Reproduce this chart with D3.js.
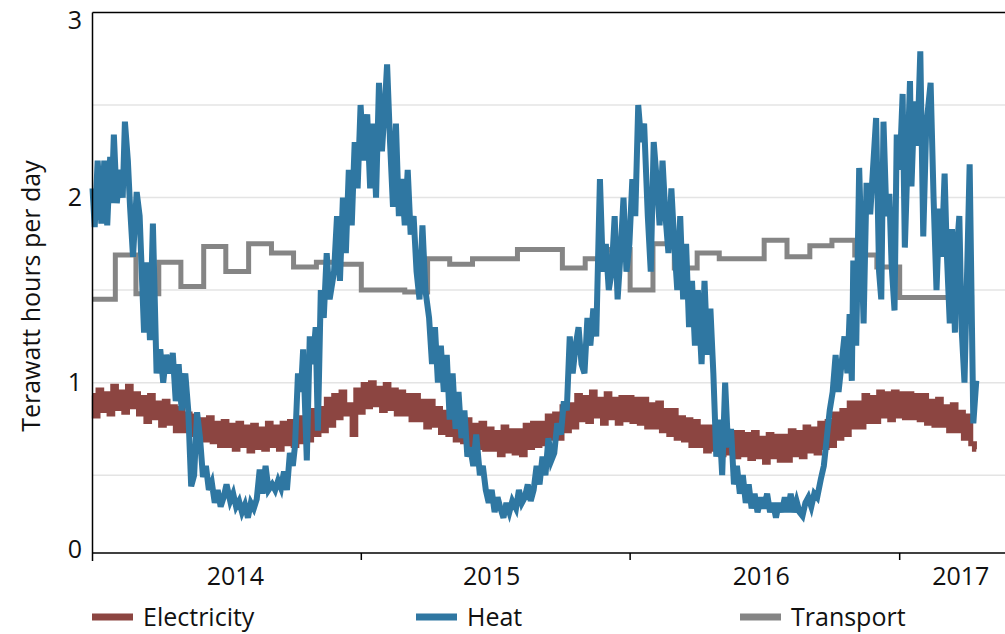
<!DOCTYPE html>
<html>
  <head>
    <meta charset="utf-8">
    <script src="https://d3js.org/d3.v7.min.js"></script>
    <title>Energy use per day</title>
    <style>
      body { margin: 0; background: #fff; }
      text { font-family: "Open Sans", sans-serif; fill: #111; }
    </style>
  </head>
  <body>

    <svg></svg>

    <script type="text/javascript">

      // days counted from 1 Jan 2014
      var heat = [
        [0,2.05],[3,1.84],[7,2.2],[12,1.86],[16,2.2],[20,1.85],[24,2.22],[26,1.97],[29,2.34],[33,1.97],
        [37,2.15],[41,2.0],[44,2.41],[48,2.2],[51,1.95],[55,1.68],[60,2.03],[64,1.9],[70,1.27],[74,1.65],
        [78,1.23],[82,1.86],[87,1.05],[92,1.18],[96,1.0],[100,1.15],[105,1.05],[109,1.16],[113,0.9],[117,1.1],
        [121,0.85],[126,1.05],[130,0.85],[134,0.44],[138,0.5],[142,0.84],[146,0.7],[150,0.49],[154,0.55],[158,0.42],
        [162,0.46],[166,0.35],[170,0.42],[174,0.33],[178,0.38],[182,0.45],[187,0.36],[191,0.4],[195,0.33],[199,0.36],
        [203,0.3],[207,0.34],[211,0.27],[215,0.35],[219,0.32],[223,0.37],[227,0.53],[231,0.4],[235,0.55],[239,0.42],
        [244,0.45],[248,0.42],[252,0.47],[256,0.43],[260,0.52],[264,0.42],[268,0.62],[272,0.55],[275,0.66],[279,1.05],
        [283,0.95],[286,1.18],[291,0.58],[295,1.25],[299,1.1],[303,1.3],[306,0.74],[310,1.5],[314,1.35],[318,1.7],
        [322,1.45],[328,1.6],[332,1.9],[336,1.55],[340,2.0],[344,1.7],[348,2.15],[352,1.85],[356,2.3],[360,2.05],
        [364,2.5],[368,2.2],[373,2.45],[377,2.05],[381,2.4],[385,2.0],[389,2.62],[393,2.25],[397,2.5],[400,2.72],
        [404,2.3],[408,1.95],[412,2.4],[416,1.9],[420,2.1],[424,1.85],[428,2.15],[432,1.8],[436,1.9],[440,1.6],
        [444,1.45],[448,1.85],[452,1.5],[457,1.35],[461,1.1],[465,1.3],[469,1.0],[473,1.2],[477,0.95],[481,1.15],
        [485,0.8],[489,1.05],[493,0.75],[497,0.95],[501,0.7],[505,0.85],[509,0.6],[513,0.65],[517,0.55],[521,0.72],
        [526,0.5],[530,0.55],[534,0.42],[538,0.35],[542,0.42],[546,0.3],[550,0.38],[554,0.32],[558,0.27],[562,0.35],
        [566,0.3],[570,0.36],[575,0.32],[579,0.42],[583,0.35],[587,0.38],[591,0.45],[595,0.36],[599,0.42],[603,0.55],
        [607,0.45],[611,0.6],[615,0.5],[619,0.7],[623,0.58],[627,0.62],[631,0.78],[636,0.72],[640,0.9],[644,0.85],
        [648,1.25],[652,1.05],[656,1.2],[660,1.3],[664,1.1],[668,1.05],[672,1.35],[676,1.2],[680,1.4],[684,1.25],
        [689,2.1],[693,1.6],[697,1.75],[701,1.5],[705,1.6],[709,1.9],[713,1.45],[717,1.7],[721,2.0],[725,1.6],
        [729,1.75],[733,2.1],[737,1.9],[741,2.5],[745,2.3],[749,2.4],[754,1.9],[758,1.6],[762,2.3],[766,2.1],
        [770,1.85],[774,2.2],[778,1.9],[782,1.7],[786,2.05],[790,1.75],[794,1.5],[798,1.9],[802,1.45],[806,1.75],
        [810,1.3],[814,1.55],[818,1.2],[822,1.5],[827,1.1],[831,1.55],[835,1.15],[839,1.4],[843,1.05],[847,0.6],
        [851,0.8],[855,0.5],[859,1.0],[863,0.65],[867,0.75],[871,0.45],[875,0.55],[879,0.4],[883,0.5],[887,0.35],
        [891,0.45],[895,0.32],[899,0.4],[903,0.3],[908,0.38],[912,0.32],[916,0.4],[920,0.3],[924,0.35],[928,0.27],
        [932,0.35],[936,0.3],[940,0.38],[944,0.3],[948,0.4],[952,0.3],[956,0.36],[960,0.3],[964,0.28],[968,0.35],
        [972,0.38],[976,0.33],[980,0.4],[984,0.38],[989,0.48],[993,0.55],[997,0.7],[1001,0.85],[1005,0.95],[1009,1.15],
        [1013,0.95],[1017,1.1],[1021,1.25],[1025,1.05],[1028,1.37],[1031,1.01],[1033,1.66],[1037,1.2],[1041,2.16],[1047,1.32],
        [1051,2.08],[1056,1.91],[1064,2.43],[1068,1.6],[1071,1.45],[1074,2.41],[1078,1.9],[1082,2.02],[1085,1.64],[1089,1.39],
        [1092,2.34],[1096,2.15],[1100,2.56],[1103,1.73],[1110,2.63],[1112,2.06],[1116,2.52],[1120,2.28],[1124,2.79],[1128,1.79],
        [1132,2.38],[1138,2.62],[1142,2.0],[1146,1.5],[1150,1.94],[1153,1.68],[1157,2.13],[1160,1.7],[1164,1.32],[1167,1.83],
        [1171,1.27],[1173,1.69],[1177,1.9],[1180,1.3],[1184,1.0],[1191,2.18],[1196,0.78],[1200,1.01]
      ];

      // one value every 5 days from 1 Jan 2014 (weekday highs, weekend lows)
      var electricity = [
        0.93,0.82,0.96,0.85,0.94,0.83,0.98,0.86,0.95,0.84,0.98,0.87,
        0.94,0.83,0.92,0.79,0.93,0.81,0.89,0.77,0.90,0.78,0.87,0.74,
        0.86,0.74,0.83,0.72,0.82,0.71,0.80,0.69,0.81,0.68,0.78,0.66,
        0.79,0.66,0.77,0.64,0.78,0.66,0.76,0.63,0.77,0.65,0.75,0.64,
        0.78,0.66,0.76,0.64,0.78,0.67,0.79,0.66,0.81,0.68,0.80,0.69,
        0.85,0.72,0.86,0.74,0.91,0.77,0.93,0.81,0.95,0.83,0.88,0.72,
        0.96,0.84,0.99,0.87,1.00,0.88,0.97,0.85,0.99,0.86,0.96,0.83,
        0.95,0.83,0.93,0.80,0.93,0.80,0.90,0.76,0.90,0.77,0.86,0.73,
        0.84,0.72,0.83,0.69,0.80,0.68,0.80,0.66,0.77,0.65,0.78,0.64,
        0.75,0.64,0.73,0.61,0.76,0.63,0.74,0.62,0.74,0.61,0.77,0.65,
        0.78,0.66,0.78,0.67,0.82,0.70,0.83,0.70,0.87,0.74,0.88,0.76,
        0.93,0.80,0.92,0.79,0.95,0.82,0.91,0.78,0.94,0.81,0.91,0.78,
        0.92,0.80,0.92,0.79,0.91,0.78,0.91,0.76,0.88,0.76,0.89,0.74,
        0.85,0.72,0.85,0.70,0.81,0.69,0.80,0.66,0.79,0.66,0.76,0.63,
        0.76,0.64,0.73,0.61,0.74,0.62,0.73,0.60,0.73,0.61,0.72,0.59,
        0.73,0.60,0.70,0.57,0.72,0.60,0.71,0.58,0.71,0.58,0.74,0.61,
        0.73,0.60,0.76,0.63,0.75,0.62,0.78,0.65,0.79,0.66,0.83,0.70,
        0.85,0.72,0.89,0.76,0.89,0.76,0.93,0.79,0.92,0.79,0.95,0.82,
        0.94,0.80,0.95,0.82,0.94,0.81,0.94,0.81,0.93,0.80,0.93,0.78,
        0.90,0.77,0.91,0.77,0.87,0.74,0.88,0.74,0.84,0.70,0.82,0.67,
        0.64
      ];

      // monthly level, Jan 2014 to Apr 2017
      var transport = [
        1.45,1.69,1.48,1.65,1.52,1.735,1.60,1.75,1.70,1.625,1.65,1.64,
        1.50,1.50,1.49,1.67,1.64,1.67,1.67,1.72,1.72,1.62,1.67,1.72,
        1.50,1.75,1.62,1.70,1.67,1.67,1.77,1.68,1.74,1.77,1.69,1.625,
        1.46,1.46,1.46,1.46
      ];

      var yearLabels = [
        { text: "2014", date: "2014-07-14" },
        { text: "2015", date: "2015-06-27" },
        { text: "2016", date: "2016-06-27" },
        { text: "2017", date: "2017-03-25" }
      ];
      var yTicks = [0, 1, 2, 3];
      var series = [
        { name: "Electricity", color: "#8c4541", x: 92 },
        { name: "Heat", color: "#2f77a2", x: 416 },
        { name: "Transport", color: "#858585", x: 740 }
      ];

      var width = 1005, height = 634;
      var plotLeft = 92.5, plotTop = 12.5, axisY = 553;
      var start = new Date(2014, 0, 1);
      var day = d => d3.timeDay.offset(start, d);

      var x = d3.scaleTime()
                .domain([start, new Date(2017, 4, 24)])
                .range([plotLeft, width]);
      var y = d3.scaleLinear().domain([0, 3]).range([567.7, plotTop]);

      var svg = d3.select("svg")
                  .attr("width", width)
                  .attr("height", height);

      // gridlines
      svg.selectAll("line.grid")
        .data([0.5, 1, 1.5, 2, 2.5])
        .join("line")
        .attr("class", "grid")
        .attr("x1", plotLeft).attr("x2", width)
        .attr("y1", d => y(d)).attr("y2", d => y(d))
        .attr("stroke", "#e4e4e4")
        .attr("stroke-width", 1.5);

      var line = d3.line().x(d => x(d[0])).y(d => y(d[1]));

      // transport steps
      var transportPts = transport.map((v, i) => [d3.timeMonth.offset(start, i), v]);
      transportPts.push([new Date(2017, 3, 12), transport[transport.length - 1]]);
      svg.append("path")
        .attr("d", d3.line().curve(d3.curveStepAfter).x(d => x(d[0])).y(d => y(d[1]))(transportPts))
        .attr("fill", "none")
        .attr("stroke", series[2].color)
        .attr("stroke-width", 5);

      svg.append("path")
        .attr("d", d3.line().curve(d3.curveStep).x(d => x(d[0])).y(d => y(d[1]))(
          electricity.map((v, i) => [day(i * 5), v])))
        .attr("fill", "none")
        .attr("stroke", series[0].color)
        .attr("stroke-width", 5);

      svg.append("path")
        .attr("d", line(heat.map(d => [day(d[0]), d[1]])))
        .attr("fill", "none")
        .attr("stroke", series[1].color)
        .attr("stroke-width", 6)
        .attr("stroke-linejoin", "miter");

      // frame
      svg.append("line")
        .attr("x1", plotLeft).attr("x2", width).attr("y1", plotTop).attr("y2", plotTop)
        .attr("stroke", "#000").attr("stroke-width", 1.5);
      svg.append("line")
        .attr("x1", plotLeft).attr("x2", width).attr("y1", axisY).attr("y2", axisY)
        .attr("stroke", "#000").attr("stroke-width", 1.5);
      svg.append("line")
        .attr("x1", plotLeft).attr("x2", plotLeft).attr("y1", plotTop).attr("y2", axisY + 8)
        .attr("stroke", "#000").attr("stroke-width", 1.5);

      svg.selectAll("line.xtick")
        .data([new Date(2015, 0, 1), new Date(2016, 0, 1), new Date(2017, 0, 1)])
        .join("line")
        .attr("class", "xtick")
        .attr("x1", d => x(d)).attr("x2", d => x(d))
        .attr("y1", axisY).attr("y2", axisY + 7)
        .attr("stroke", "#000").attr("stroke-width", 1.5);

      svg.selectAll("text.year")
        .data(yearLabels)
        .join("text")
        .attr("class", "year")
        .attr("x", d => x(new Date(d.date)))
        .attr("y", 585)
        .attr("text-anchor", "middle")
        .style("font-size", "25px")
        .text(d => d.text);

      svg.selectAll("text.ytick")
        .data(yTicks)
        .join("text")
        .attr("class", "ytick")
        .attr("x", 82)
        .attr("y", d => Math.min(Math.max(y(d), 20), 549))
        .attr("dy", "0.35em")
        .attr("text-anchor", "end")
        .style("font-size", "25px")
        .text(d => d);

      svg.append("text")
        .attr("transform", "translate(40,296) rotate(-90)")
        .attr("text-anchor", "middle")
        .style("font-size", "25px")
        .text("Terawatt hours per day");

      // legend
      var legend = svg.selectAll("g.legend")
        .data(series)
        .join("g")
        .attr("class", "legend")
        .attr("transform", d => "translate(" + d.x + ",617)");
      legend.append("line")
        .attr("x1", 0).attr("x2", 41)
        .attr("stroke", d => d.color)
        .attr("stroke-width", 7);
      legend.append("text")
        .attr("x", 51)
        .attr("dy", "0.35em")
        .style("font-size", "25px")
        .text(d => d.name);

    </script>
  </body>
</html>
